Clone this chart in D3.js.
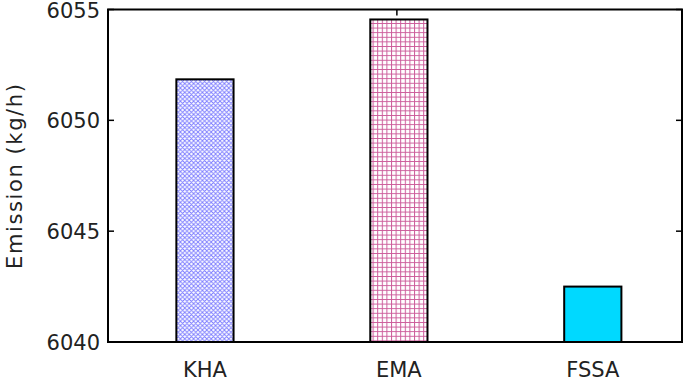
<!DOCTYPE html>
<html>
<head>
<meta charset="utf-8">
<script src="https://cdn.jsdelivr.net/npm/d3@7"></script>
<style>
  body { margin: 0; background: #fff; }
  svg { display: block; font-family: "DejaVu Sans", sans-serif; }
</style>
</head>
<body>
<div id="chart"></div>
<script>
// values
const categories = ["KHA", "EMA", "FSSA"];
const emissions = [6051.85, 6054.55, 6042.5];
const yTicks = [6040, 6045, 6050, 6055];

const width = 685, height = 382;
const margin = { top: 9.5, right: 3, bottom: 40, left: 108 };

const svg = d3.select("#chart").append("svg")
  .attr("width", width)
  .attr("height", height);

const x = d3.scaleLinear()
  .domain([0.5, 3.46])
  .range([margin.left, width - margin.right]);

const y = d3.scaleLinear()
  .domain([6040, 6055])
  .range([height - margin.bottom, margin.top]);

// hatch patterns
const defs = svg.append("defs");

const cross = defs.append("pattern")
  .attr("id", "hatch-kha")
  .attr("patternUnits", "userSpaceOnUse")
  .attr("width", 4.4).attr("height", 4.4);
cross.append("rect").attr("width", 4.4).attr("height", 4.4).attr("fill", "#fff");
cross.append("path")
  .attr("d", "M0,0L4.4,4.4M4.4,0L0,4.4M-1,3.4L1,5.4M3.4,-1L5.4,1M-1,1L1,-1M3.4,5.4L5.4,3.4")
  .attr("stroke", "#7a7aff")
  .attr("stroke-width", 0.9);

const grid = defs.append("pattern")
  .attr("id", "hatch-ema")
  .attr("patternUnits", "userSpaceOnUse")
  .attr("width", 4.6).attr("height", 4.6);
grid.append("rect").attr("width", 4.6).attr("height", 4.6).attr("fill", "#fff");
grid.append("path")
  .attr("d", "M0,0.5H4.6M0.5,0V4.6")
  .attr("stroke", "#cc5c9a")
  .attr("stroke-width", 1);

const fills = ["url(#hatch-kha)", "url(#hatch-ema)", "#00d9ff"];

const x0 = margin.left, x1 = width - margin.right;
const y0 = height - margin.bottom, y1 = margin.top;

// inward ticks on left and right
const tickLen = 6;
const g = svg.append("g").attr("stroke", "#000").attr("stroke-width", 1.5);
yTicks.forEach(t => {
  g.append("line").attr("x1", x0).attr("x2", x0 + tickLen).attr("y1", y(t)).attr("y2", y(t));
  g.append("line").attr("x1", x1).attr("x2", x1 - tickLen).attr("y1", y(t)).attr("y2", y(t));
});
categories.forEach((c, i) => {
  g.append("line").attr("x1", x(i + 1)).attr("x2", x(i + 1)).attr("y1", y0).attr("y2", y0 - tickLen);
});
g.append("line").attr("x1", x(2) - 2).attr("x2", x(2) - 2).attr("y1", y1).attr("y2", y1 + tickLen);

// bars
const barW = 0.295;
svg.append("g")
  .selectAll("rect")
  .data(emissions)
  .join("rect")
  .attr("x", (d, i) => x(i + 1 - barW / 2))
  .attr("width", x(barW) - x(0))
  .attr("y", d => y(d))
  .attr("height", d => y0 - y(d))
  .attr("fill", (d, i) => fills[i])
  .attr("stroke", "#000")
  .attr("stroke-width", 2);

// frame
svg.append("rect")
  .attr("x", x0).attr("y", y1)
  .attr("width", x1 - x0).attr("height", y0 - y1)
  .attr("fill", "none")
  .attr("stroke", "#000")
  .attr("stroke-width", 2);

// tick labels
svg.append("g")
  .selectAll("text")
  .data(yTicks)
  .join("text")
  .attr("x", 100)
  .attr("y", d => Math.max(y(d), 10.5))
  .attr("dy", "0.36em")
  .attr("text-anchor", "end")
  .style("font-size", "21px")
  .attr("fill", "#222")
  .text(d => d);

svg.append("g")
  .selectAll("text")
  .data(categories)
  .join("text")
  .attr("x", (d, i) => x(i + 1))
  .attr("y", 377)
  .attr("text-anchor", "middle")
  .style("font-size", "21px")
  .attr("fill", "#222")
  .text(d => d);

svg.append("text")
  .attr("transform", `translate(22,${(y0 + y1) / 2}) rotate(-90)`)
  .attr("text-anchor", "middle")
  .style("font-size", "21px")
  .style("letter-spacing", "1.6px")
  .attr("fill", "#222")
  .text("Emission (kg/h)");
</script>
</body>
</html>
